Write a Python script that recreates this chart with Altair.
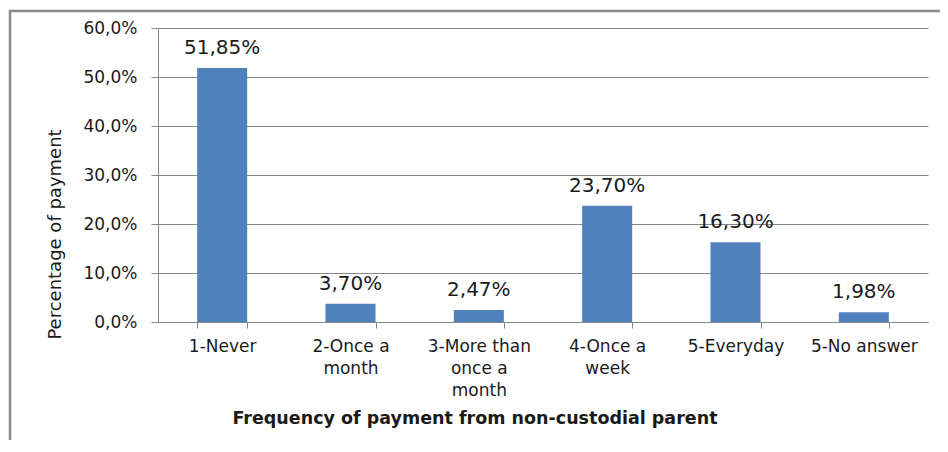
import json
import altair as alt
import pandas as pd

categories = ["1-Never", "2-Once a month", "3-More than once a month",
              "4-Once a week", "5-Everyday", "5-No answer"]
values = [51.85, 3.70, 2.47, 23.70, 16.30, 1.98]
value_labels = ["51,85%", "3,70%", "2,47%", "23,70%", "16,30%", "1,98%"]
category_lines = [["1-Never"], ["2-Once a", "month"], ["3-More than", "once a", "month"],
                  ["4-Once a", "week"], ["5-Everyday"], ["5-No answer"]]
y_ticks = [0, 10, 20, 30, 40, 50, 60]

df = pd.DataFrame({"category": categories, "value": values, "label": value_labels})
label_map = json.dumps(dict(zip(categories, category_lines)))

FONT = "DejaVu Sans"
GRAY = "#868686"
BAR = "#4F81BD"
TXT = "#1a1a1a"

x_enc = alt.X(
    "category:N", sort=categories,
    scale=alt.Scale(paddingInner=0.61, paddingOuter=0.305),
    axis=alt.Axis(
        title="Frequency of payment from non-custodial parent",
        labelAngle=0, labelExpr=f"{label_map}[datum.value]",
        tickBand="extent", grid=False, tickSize=6, labelPadding=10,
        labelBaseline="top", labelLineHeight=22, labelFontSize=17,
        labelColor=TXT, domainColor=GRAY, tickColor=GRAY,
        titleFontSize=17.5, titleFontWeight="bold", titleColor=TXT,
        titleX=316.5, titleY=101, titleAlign="center", titleBaseline="alphabetic",
    ),
)
y_enc = alt.Y(
    "value:Q",
    scale=alt.Scale(domain=[0, 60], nice=False),
    axis=alt.Axis(
        values=y_ticks,
        labelExpr="replace(format(datum.value, '.1f'), '.', ',') + '%'",
        title="Percentage of payment", titleAngle=270, titleX=-103, titleY=206,
        titleAlign="center", titleBaseline="middle", titleFontWeight="normal",
        titleFontSize=18, titleColor=TXT,
        tickSize=7, labelPadding=14, labelFontSize=17, labelColor=TXT,
        gridColor=GRAY, domainColor=GRAY, tickColor=GRAY,
    ),
)

frame = alt.Chart(alt.Data(values=[{"f": 1}])).mark_rect(
    fillOpacity=0, stroke="#8c8c8c", strokeWidth=2.5
).encode(x=alt.value(-148), x2=alt.value(1000), y=alt.value(-17), y2=alt.value(700))

bars = alt.Chart(df).mark_bar(color=BAR).encode(x=x_enc, y=y_enc)
texts = alt.Chart(df).mark_text(
    baseline="alphabetic", dy=-14, fontSize=20, font=FONT, color=TXT
).encode(x=alt.X("category:N", sort=categories), y="value:Q", text="label:N")

chart = alt.layer(frame, bars, texts).properties(
    width=770, height=294,
    padding={"left": 150, "top": 20, "right": 12, "bottom": 118},
    autosize=alt.AutoSizeParams(type="none"),
).configure_view(stroke=None).configure_axis(
    labelFont=FONT, titleFont=FONT
)

chart.save("out.html", embed_options={"renderer": "svg", "actions": False})
